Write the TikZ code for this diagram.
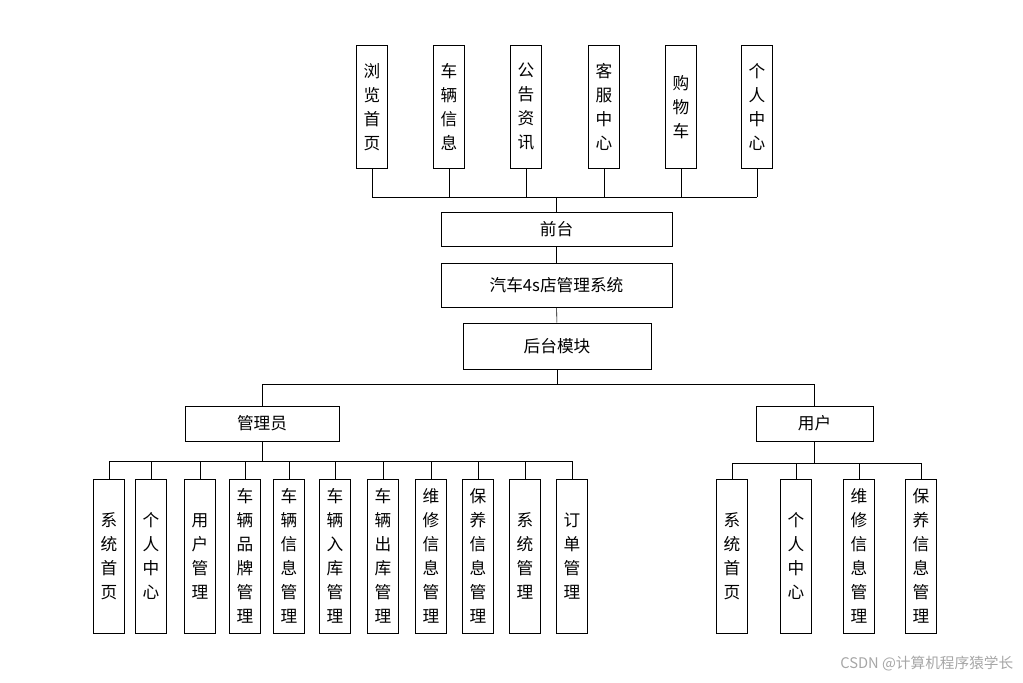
\documentclass[tikz,border=0pt]{standalone}
\usepackage{fontspec}
\newfontfamily\cjk{Noto Sans CJK SC}
\usetikzlibrary{positioning,calc}
\tikzset{
  hbox/.style={draw, font=\cjk\fontsize{12.5}{18}\selectfont, inner sep=0pt},
  vbox/.style={draw, font=\cjk\fontsize{12.5}{18}\selectfont, align=center,
               minimum width=31*0.75pt, minimum height=154*0.75pt, inner sep=0pt, anchor=north},
  tbox/.style={vbox, minimum height=123*0.75pt},
  link/.style={thin},
}
\begin{document}
\begin{tikzpicture}[x=0.75pt, y=-0.75pt]
\useasboundingbox (0,0) rectangle (1023,682);

%% Front end
\foreach \x/\t [count=\i] in {372/浏\\览\\首\\页, 449/车\\辆\\信\\息, 526/公\\告\\资\\讯,
                              604/客\\服\\中\\心, 681/购\\物\\车, 757/个\\人\\中\\心}
  \node[tbox] (f\i) at (\x,45) {\t};
\node[hbox, minimum width=231*0.75pt, minimum height=34*0.75pt] (front) at (556.5,229) {前台};
\node[hbox, minimum width=231*0.75pt, minimum height=44*0.75pt] (sys) at (556.5,285) {汽车4s店管理系统};
\node[hbox, minimum width=188*0.75pt, minimum height=46*0.75pt] (back) at (557,346) {后台模块};
\coordinate (fbus) at (556.5,197);
\foreach \i in {1,...,6}
  \draw[link] (f\i.south) -- (f\i.south |- fbus);
\draw[link] (f1.south |- fbus) -- (f6.south |- fbus);
\draw[link] (fbus) -- (front.north);
\draw[link] (front) -- (sys);
\draw[link] (sys) -- (back);

%% Back end
\node[hbox, minimum width=154*0.75pt, minimum height=35*0.75pt] (admin) at (262,423.5) {管理员};
\node[hbox, minimum width=117*0.75pt, minimum height=35*0.75pt] (user) at (814.5,423.5) {用户};
\coordinate (bbus) at (557,384);
\draw[link] (back.south) -- (bbus);
\draw[link] (admin.north |- bbus) -- (user.north |- bbus);
\draw[link] (admin.north |- bbus) -- (admin.north);
\draw[link] (user.north |- bbus) -- (user.north);

%% Admin modules
\foreach \x/\t [count=\i] in {109/系\\统\\首\\页, 151/个\\人\\中\\心, 200/用\\户\\管\\理,
      245/车\\辆\\品\\牌\\管\\理, 289/车\\辆\\信\\息\\管\\理, 335/车\\辆\\入\\库\\管\\理,
      383/车\\辆\\出\\库\\管\\理, 431/维\\修\\信\\息\\管\\理, 478/保\\养\\信\\息\\管\\理,
      525/系\\统\\管\\理, 572/订\\单\\管\\理}
  \node[vbox] (a\i) at (\x,479) {\t};
\coordinate (abus) at (262,461);
\draw[link] (admin.south) -- (abus);
\draw[link] (a1.north |- abus) -- (a11.north |- abus);
\foreach \i in {1,...,11}
  \draw[link] (a\i.north |- abus) -- (a\i.north);

%% User modules
\foreach \x/\t [count=\i] in {732/系\\统\\首\\页, 796/个\\人\\中\\心,
      859/维\\修\\信\\息\\管\\理, 921/保\\养\\信\\息\\管\\理}
  \node[vbox] (u\i) at (\x,479) {\t};
\coordinate (ubus) at (814.5,463);
\draw[link] (user.south) -- (ubus);
\draw[link] (u1.north |- ubus) -- (u4.north |- ubus);
\foreach \i in {1,...,4}
  \draw[link] (u\i.north |- ubus) -- (u\i.north);

\node[font=\cjk\fontsize{11}{13}\selectfont, text=black!35, anchor=east] (mark) at (1018,664) {CSDN @计算机程序猿学长};
\end{tikzpicture}
\end{document}
